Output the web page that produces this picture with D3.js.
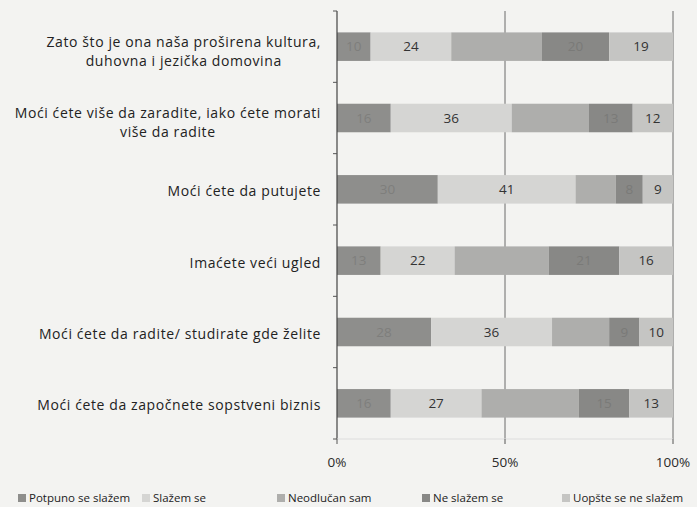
<!DOCTYPE html>
<html>
<head>
<meta charset="utf-8">
<script src="https://cdn.jsdelivr.net/npm/d3@7"></script>
<style>
  html, body { margin: 0; padding: 0; background: #f3f3f1; }
  svg { display: block; font-family: "Open Sans", Lato, sans-serif; }
</style>
</head>
<body>
<svg id="chart" width="697" height="507"></svg>
<script>
// categories (top to bottom), each label split into lines
const categories = [
    ["Zato što je ona naša proširena kultura,", "duhovna i jezička domovina"],
    ["Moći ćete više da zaradite, iako ćete morati", "više da radite"],
    ["Moći ćete da putujete"],
    ["Imaćete veći ugled"],
    ["Moći ćete da radite/ studirate gde želite"],
    ["Moći ćete da započnete sopstveni biznis"]
];

const seriesNames = ["Potpuno se slažem", "Slažem se", "Neodlučan sam", "Ne slažem se", "Uopšte se ne slažem"];

// percentages per series, in category order
const potpuno = [10, 16, 30, 13, 28, 16];
const slazem = [24, 36, 41, 22, 36, 27];
const neodlucan = [27, 23, 12, 28, 17, 29];
const neSlazem = [20, 13, 8, 21, 9, 15];
const uopste = [19, 12, 9, 16, 10, 13];

const xTicks = [0, 50, 100];

const colors = ["#8e8e8c", "#d5d5d3", "#aeaeac", "#888886", "#c5c5c3"];
// label colours: faint on the dark segments, none on the middle one
const labelColors = ["#7e7e7c", "#333333", null, "#7a7a78", "#333333"];

const svg = d3.select("#chart");

const rows = categories.map((c, i) => ({
    key: i,
    s0: potpuno[i], s1: slazem[i], s2: neodlucan[i], s3: neSlazem[i], s4: uopste[i]
}));
const keys = ["s0", "s1", "s2", "s3", "s4"];
const stacked = d3.stack().keys(keys)(rows);

const x = d3.scaleLinear().domain([0, 100]).range([337, 673]);
const y = d3.scaleBand().domain(d3.range(categories.length)).range([11, 439]).paddingInner(0.6).paddingOuter(0.3);

// vertical grid lines at 50% and 100%
svg.append("g")
    .selectAll("line")
    .data(xTicks.slice(1))
    .join("line")
    .attr("x1", d => x(d)).attr("x2", d => x(d))
    .attr("y1", 11).attr("y2", 439)
    .attr("stroke", "#6a6a6a")
    .attr("stroke-width", 1);

// bars
const layer = svg.append("g")
    .selectAll("g")
    .data(stacked)
    .join("g")
    .attr("fill", (d, i) => colors[i]);

layer.selectAll("rect")
    .data(d => d)
    .join("rect")
    .attr("x", d => x(d[0]))
    .attr("y", (d, i) => y(i))
    .attr("width", d => x(d[1]) - x(d[0]))
    .attr("height", y.bandwidth());

// value labels
stacked.forEach((s, si) => {
    if (!labelColors[si]) return;
    svg.append("g")
        .selectAll("text")
        .data(s)
        .join("text")
        .attr("x", d => (x(d[0]) + x(d[1])) / 2)
        .attr("y", (d, i) => y(i) + y.bandwidth() / 2)
        .attr("dy", "0.35em")
        .attr("text-anchor", "middle")
        .attr("font-size", 13.5)
        .attr("fill", labelColors[si])
        .text(d => d[1] - d[0]);
});

// left axis line with ticks between categories
svg.append("line")
    .attr("x1", x(0)).attr("x2", x(0))
    .attr("y1", 11).attr("y2", 439)
    .attr("stroke", "#444").attr("stroke-width", 1.2);
svg.append("g")
    .selectAll("line")
    .data(d3.range(categories.length + 1))
    .join("line")
    .attr("x1", x(0) - 4).attr("x2", x(0))
    .attr("y1", i => 11 + i * (428 / categories.length))
    .attr("y2", i => 11 + i * (428 / categories.length))
    .attr("stroke", "#555");

// bottom axis: ticks and labels
svg.append("line")
    .attr("x1", x(0)).attr("x2", x(100))
    .attr("y1", 439).attr("y2", 439)
    .attr("stroke", "#ddd");
svg.append("g")
    .selectAll("line")
    .data(xTicks)
    .join("line")
    .attr("x1", d => x(d)).attr("x2", d => x(d))
    .attr("y1", 439).attr("y2", 444)
    .attr("stroke", "#555");
svg.append("g")
    .selectAll("text")
    .data(xTicks)
    .join("text")
    .attr("x", d => x(d))
    .attr("y", 462)
    .attr("dy", "0.35em")
    .attr("text-anchor", "middle")
    .attr("font-size", 13.5)
    .attr("fill", "#2a2a2a")
    .text(d => d + "%");

// category labels
const catLabels = svg.append("g")
    .selectAll("text")
    .data(categories)
    .join("text")
    .attr("text-anchor", "middle")
    .attr("font-size", 14)
    .attr("letter-spacing", 0.6)
    .attr("fill", "#222");

catLabels.each(function (lines, i) {
    const cy = y(i) + y.bandwidth() / 2;
    const t = d3.select(this);
    const lh = 19.3;
    const top = lines.length > 1 ? cy - 5 : cy + 2;
    lines.forEach((ln, j) => {
        t.append("tspan")
            .attr("x", 0)
            .attr("y", top + j * lh)
            .attr("dy", "0.35em")
            .text(ln);
    });
    // right-align the block, centre lines within it
    const w = this.getBBox().width;
    t.attr("transform", `translate(${321 - w / 2},0)`);
});

// legend
const legendX = [18, 142, 277, 422, 562];
const legend = svg.append("g")
    .selectAll("g")
    .data(seriesNames)
    .join("g")
    .attr("transform", (d, i) => `translate(${legendX[i]},498)`);
legend.append("rect")
    .attr("x", 0).attr("y", -4)
    .attr("width", 8).attr("height", 8)
    .attr("fill", (d, i) => colors[i]);
legend.append("text")
    .attr("x", 11)
    .attr("dy", "0.35em")
    .attr("font-size", 11.5)
    .attr("fill", "#222")
    .text(d => d);
</script>
</body>
</html>
